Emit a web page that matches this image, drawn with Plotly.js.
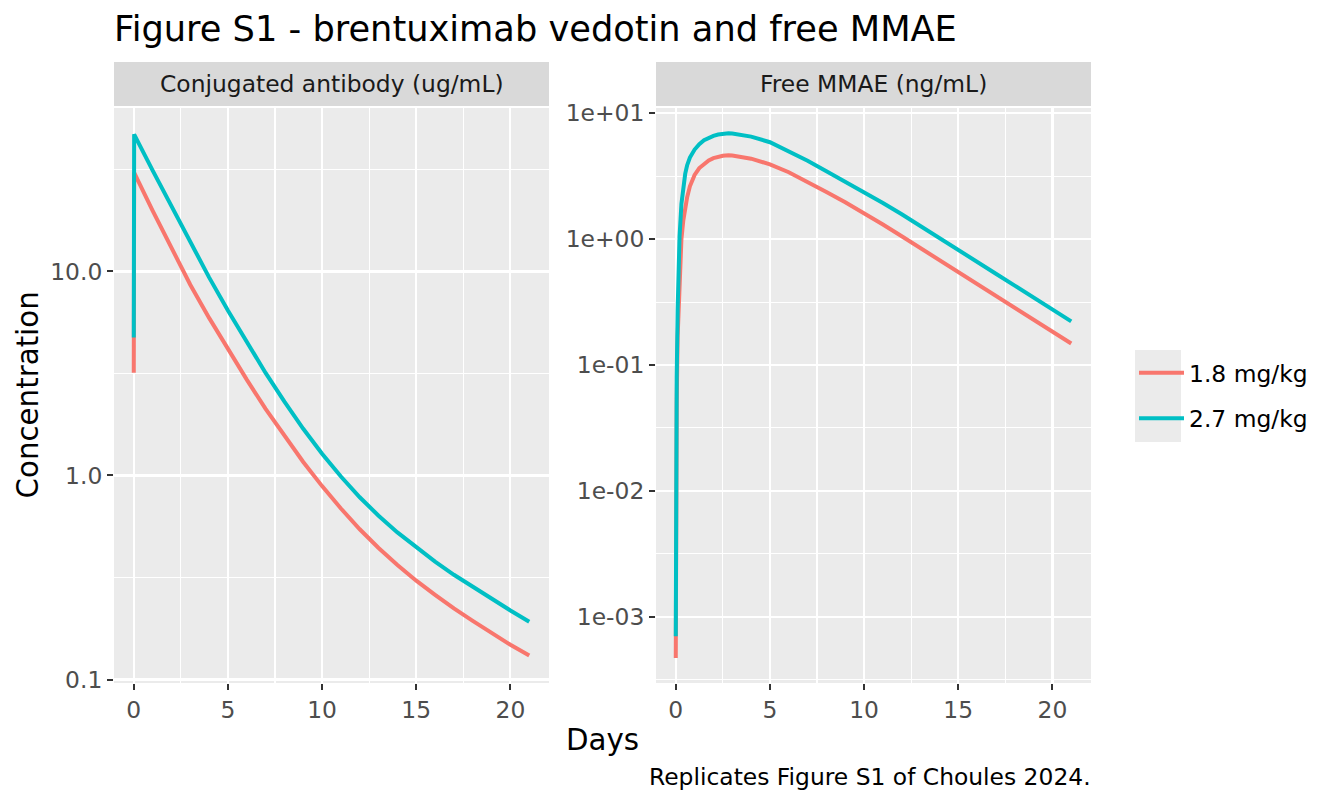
<!DOCTYPE html>
<html>
<head>
<meta charset="utf-8">
<script src="https://cdn.plot.ly/plotly-3.0.1.min.js"></script>
<style>
  html, body { margin: 0; padding: 0; background: #ffffff; }
  #chart { width: 1344px; height: 806px; }
</style>
</head>
<body>
<div id="chart"></div>
<script>
// values (days after dose)
var doseLabels = ['1.8 mg/kg', '2.7 mg/kg'];
var doseColors = ['#F8766D', '#00BFC4'];

// conjugated antibody, ug/mL
var adcDays = [0, 0.02, 1, 2, 3, 4, 5, 6, 7, 8, 9, 10, 11, 12, 13, 14, 15, 16, 17, 18, 19, 20, 21];
var adcLow  = [3.19, 30.5, 19.86, 12.94, 8.61, 5.92, 4.16, 2.95, 2.12, 1.556, 1.164, 0.887, 0.689, 0.545,
               0.441, 0.364, 0.305, 0.260, 0.223, 0.194, 0.169, 0.148, 0.131];
var adcHigh = [4.74, 47.0, 31.3, 20.75, 13.84, 9.35, 6.44, 4.50, 3.18, 2.30, 1.694, 1.279, 0.989, 0.782,
               0.635, 0.526, 0.443, 0.378, 0.326, 0.284, 0.248, 0.218, 0.192];

// free MMAE, ng/mL
var mmaeDays = [0, 0.02, 0.05, 0.1, 0.2, 0.3, 0.4, 0.5, 0.6, 0.75, 1, 1.25, 1.5, 1.75, 2, 2.25, 2.5, 2.8, 3,
                4, 5, 6, 7, 8, 9, 10, 11, 12, 13, 14, 15, 16, 17, 18, 19, 20, 21];
var mmaeLow  = [0.00047, 0.008, 0.05, 0.17, 0.45, 1.0, 1.41, 1.78, 2.14, 2.63, 3.24, 3.67, 3.98, 4.22, 4.40, 4.52, 4.59, 4.63, 4.61,
                4.36, 3.93, 3.40, 2.85, 2.37, 1.96, 1.607, 1.306, 1.054, 0.849, 0.682, 0.548, 0.441, 0.354, 0.284, 0.229, 0.184, 0.148];
var mmaeHigh = [0.0007, 0.012, 0.08, 0.28, 1.05, 1.9, 2.7, 3.3, 3.85, 4.45, 5.15, 5.69, 6.10, 6.40, 6.61, 6.78, 6.88, 6.94, 6.92,
                6.53, 5.89, 5.01, 4.19, 3.47, 2.87, 2.37, 1.94, 1.578, 1.274, 1.023, 0.822, 0.661, 0.531, 0.427, 0.343, 0.275, 0.222];

var dayTicks = [0, 5, 10, 15, 20];
var dayMinor = [2.5, 7.5, 12.5, 17.5];
var adcTickVals = [0.1, 1, 10];
var adcTickText = ['0.1', '1.0', '10.0'];
var mmaeTickVals = [0.001, 0.01, 0.1, 1, 10];
var mmaeTickText = ['1e-03', '1e-02', '1e-01', '1e+00', '1e+01'];
var stripLabels = ['Conjugated antibody (ug/mL)', 'Free MMAE (ng/mL)'];

var W = 1344, H = 806;
function px(x) { return x / W; }
function py(y) { return 1 - y / H; }

var FONT = 'DejaVu Sans, Liberation Sans, sans-serif';
var SMALL = 23.4, MID = 29.3, BIG = 35.2;
var panelTop = 108, panelBottom = 683;
var leftPanel = [114, 549], rightPanel = [656, 1091];

// minor log gridlines sit half a decade between the majors
function halfDecades(vals) {
  var out = [vals[0] / Math.sqrt(10)];
  vals.forEach(function (v) { out.push(v * Math.sqrt(10)); });
  return out;
}

function xAxis(domain, anchor) {
  return {
    domain: [px(domain[0]), px(domain[1])],
    anchor: anchor,
    range: [-1.05, 22.05],
    tickmode: 'array', tickvals: dayTicks,
    ticks: 'outside', ticklen: 6, tickwidth: 2, tickcolor: '#333333',
    tickfont: { size: SMALL, color: '#4D4D4D' },
    showgrid: true, gridcolor: '#FFFFFF', gridwidth: 2.2,
    minor: { tickmode: 'array', tickvals: dayMinor, showgrid: true,
             gridcolor: '#FFFFFF', gridwidth: 1.1, ticks: '' },
    zeroline: false, showline: false, fixedrange: true
  };
}

function yAxis(range, vals, text, anchor) {
  return {
    domain: [py(panelBottom), py(panelTop)],
    anchor: anchor,
    type: 'log',
    range: range,
    tickmode: 'array', tickvals: vals, ticktext: text,
    ticks: 'outside', ticklen: 6, tickwidth: 2, tickcolor: '#333333',
    tickfont: { size: SMALL, color: '#4D4D4D' },
    showgrid: true, gridcolor: '#FFFFFF', gridwidth: 2.2,
    minor: { tickmode: 'array', tickvals: halfDecades(vals), showgrid: true,
             gridcolor: '#FFFFFF', gridwidth: 1.1, ticks: '' },
    zeroline: false, showline: false, fixedrange: true
  };
}

var data = [];
[adcLow, adcHigh].forEach(function (ys, i) {
  data.push({
    x: adcDays, y: ys, xaxis: 'x', yaxis: 'y', type: 'scatter', mode: 'lines',
    name: doseLabels[i], legendgroup: doseLabels[i],
    line: { color: doseColors[i], width: 4 }
  });
});
[mmaeLow, mmaeHigh].forEach(function (ys, i) {
  data.push({
    x: mmaeDays, y: ys, xaxis: 'x2', yaxis: 'y2', type: 'scatter', mode: 'lines',
    name: doseLabels[i], legendgroup: doseLabels[i], showlegend: false,
    line: { color: doseColors[i], width: 4 }
  });
});

var shapes = [leftPanel, rightPanel].map(function (p) {
  return { type: 'rect', xref: 'paper', yref: 'paper', layer: 'below',
           x0: px(p[0]), x1: px(p[1]), y0: py(106), y1: py(62),
           fillcolor: '#D9D9D9', line: { width: 0 } };
});
// legend key background
shapes.push({ type: 'rect', xref: 'paper', yref: 'paper', layer: 'below',
              x0: px(1135), x1: px(1181), y0: py(442), y1: py(350),
              fillcolor: '#EBEBEB', line: { width: 0 } });

var annotations = [leftPanel, rightPanel].map(function (p, i) {
  return { text: stripLabels[i], xref: 'paper', yref: 'paper',
           x: px((p[0] + p[1]) / 2), y: py(84), xanchor: 'center', yanchor: 'middle',
           showarrow: false, font: { size: SMALL, color: '#1A1A1A' } };
});
annotations.push({ text: 'Days', xref: 'paper', yref: 'paper', x: px(602.5), y: py(740),
                   xanchor: 'center', yanchor: 'middle', showarrow: false,
                   font: { size: MID, color: '#000000' } });
annotations.push({ text: 'Concentration', xref: 'paper', yref: 'paper', x: px(28), y: py(395.5),
                   xanchor: 'center', yanchor: 'middle', textangle: -90, showarrow: false,
                   font: { size: MID, color: '#000000' } });
annotations.push({ text: 'Replicates Figure S1 of Choules 2024.', xref: 'paper', yref: 'paper',
                   x: px(1093), y: py(777), xanchor: 'right', yanchor: 'middle', showarrow: false,
                   font: { size: SMALL, color: '#000000' } });

var layout = {
  width: W, height: H,
  margin: { l: 0, r: 0, t: 0, b: 0 },
  paper_bgcolor: '#FFFFFF',
  plot_bgcolor: '#EBEBEB',
  font: { family: FONT, color: '#000000' },
  title: { text: 'Figure S1 - brentuximab vedotin and free MMAE',
           xref: 'container', yref: 'container', x: px(114), xanchor: 'left',
           y: py(29), yanchor: 'middle', font: { size: BIG, color: '#000000' } },
  xaxis: xAxis(leftPanel, 'y'),
  yaxis: yAxis([-1.017, 1.801], adcTickVals, adcTickText, 'x'),
  xaxis2: xAxis(rightPanel, 'y2'),
  yaxis2: yAxis([-3.527, 1.042], mmaeTickVals, mmaeTickText, 'x2'),
  showlegend: true,
  legend: { x: px(1134), xanchor: 'left', y: py(351), yanchor: 'top',
            bgcolor: 'rgba(0,0,0,0)', font: { size: SMALL, color: '#000000' },
            tracegroupgap: 12, itemwidth: 45 },
  shapes: shapes,
  annotations: annotations
};

Plotly.newPlot(document.getElementById('chart'), data, layout, { displayModeBar: false, staticPlot: true });
</script>
</body>
</html>
